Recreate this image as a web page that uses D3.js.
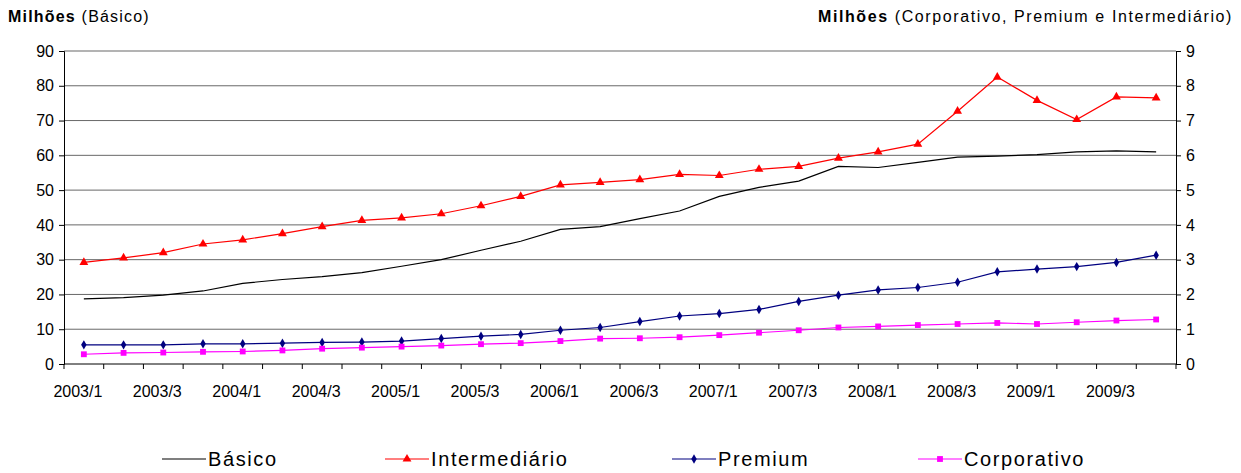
<!DOCTYPE html>
<html><head><meta charset="utf-8">
<script src="https://cdn.jsdelivr.net/npm/d3@7"></script>
<style>body{margin:0;background:#fff;font-family:"Liberation Sans",Arial,sans-serif}</style>
</head><body><div id="content"></div>
<script>
const years = ['2003','2004','2005','2006','2007','2008','2009'];
const periods = years.flatMap(y => [1, 2, 3, 4].map(q => `${y}/${q}`));
const basico = [18.7,19.1,19.8,21,23.2,24.3,25.1,26.3,28.1,30,32.7,35.3,38.7,39.5,41.8,44,48.2,50.8,52.6,56.8,56.5,58,59.5,59.8,60.2,61,61.3,61];
const intermediario = [2.92,3.05,3.2,3.45,3.57,3.75,3.95,4.13,4.2,4.32,4.55,4.82,5.15,5.22,5.3,5.45,5.42,5.6,5.68,5.92,6.1,6.32,7.27,8.25,7.58,7.03,7.68,7.65];
const premium = [0.55,0.55,0.55,0.58,0.58,0.6,0.62,0.63,0.66,0.73,0.8,0.85,0.97,1.05,1.22,1.38,1.45,1.57,1.8,1.98,2.13,2.2,2.35,2.65,2.73,2.8,2.92,3.13];
const corporativo = [0.28,0.32,0.33,0.35,0.36,0.39,0.44,0.47,0.5,0.53,0.57,0.6,0.66,0.73,0.74,0.77,0.83,0.9,0.97,1.05,1.08,1.12,1.15,1.18,1.15,1.2,1.25,1.28];
const leftTicks = d3.range(0, 91, 10);
const rightTicks = d3.range(0, 10, 1);

const W = 1241, H = 473, L = 64, R = 1176, T = 51, B = 364;
const svg = d3.select('#content').append('svg').attr('width', W).attr('height', H)
  .style('font-family', '"Liberation Sans",Arial,sans-serif');

const x = d3.scaleBand().domain(periods).range([L, R]);
const yL = d3.scaleLinear().domain([0, 90]).range([B, T]);
const yR = d3.scaleLinear().domain([0, 9]).range([B, T]);
const cx = p => x(p) + x.bandwidth() / 2;

svg.append('g').selectAll('line').data(leftTicks.slice(1)).join('line')
  .attr('x1', L).attr('x2', R).attr('y1', d => yL(d)).attr('y2', d => yL(d))
  .attr('stroke', '#000').attr('stroke-width', 0.6);

const gl = svg.append('g').attr('transform', `translate(${L},0)`)
  .call(d3.axisLeft(yL).tickValues(leftTicks).tickSize(5).tickPadding(5));
const gr = svg.append('g').attr('transform', `translate(${R},0)`)
  .call(d3.axisRight(yR).tickValues(rightTicks).tickSize(5).tickPadding(5));
const gx = svg.append('g').attr('transform', `translate(-6,${B})`)
  .call(d3.axisBottom(x).tickValues(periods.filter((p, i) => i % 2 === 0)).tickSize(0).tickPadding(22));
gx.select('.domain').remove();
svg.append('line').attr('x1', L).attr('x2', R).attr('y1', B).attr('y2', B).attr('stroke', '#000');
svg.append('g').selectAll('line').data(periods.concat(['end'])).join('line')
  .attr('x1', (d, i) => L + i * x.bandwidth()).attr('x2', (d, i) => L + i * x.bandwidth())
  .attr('y1', B).attr('y2', B + 5).attr('stroke', '#000');
[gl, gr, gx].forEach(g => {
  g.selectAll('text').attr('font-size', 16).attr('fill', '#000').attr('font-family', '"Liberation Sans",Arial,sans-serif');
  g.selectAll('path,line').attr('stroke', '#000');
});

svg.append('text').attr('x', 8).attr('y', 22).attr('font-size', 16).attr('letter-spacing', 1.2)
  .html('<tspan font-weight="bold">Milhões</tspan> (Básico)');
svg.append('text').attr('x', 1233).attr('y', 22).attr('font-size', 16).attr('letter-spacing', 1.6).attr('text-anchor', 'end')
  .html('<tspan font-weight="bold">Milhões</tspan> (Corporativo, Premium e Intermediário)');

const series = [
  {name: 'Básico', values: basico, y: yL, color: '#000', marker: null},
  {name: 'Intermediário', values: intermediario, y: yR, color: '#ff0000', marker: 'triangle'},
  {name: 'Premium', values: premium, y: yR, color: '#000080', marker: 'diamond'},
  {name: 'Corporativo', values: corporativo, y: yR, color: '#ff00ff', marker: 'square'}
];
const sym = {triangle: d3.symbolTriangle, diamond: d3.symbolDiamond, square: d3.symbolSquare};
const size = {triangle: 34, diamond: 26, square: 34};

series.forEach(s => {
  svg.append('path').datum(s.values)
    .attr('d', d3.line().x((d, i) => cx(periods[i])).y(d => s.y(d)))
    .attr('fill', 'none').attr('stroke', s.color).attr('stroke-width', 1.2);
  if (s.marker) {
    svg.append('g').selectAll('path').data(s.values).join('path')
      .attr('d', d3.symbol(sym[s.marker], size[s.marker]))
      .attr('transform', (d, i) => `translate(${cx(periods[i])},${s.y(d)})`)
      .attr('fill', s.color);
  }
});

const legX = [162, 385, 672, 918];
series.forEach((s, i) => {
  const g = svg.append('g').attr('transform', `translate(${legX[i]},459)`);
  g.append('line').attr('x1', 0).attr('x2', 44).attr('stroke', s.color).attr('stroke-width', 1.2);
  if (s.marker) g.append('path').attr('d', d3.symbol(sym[s.marker], size[s.marker])).attr('transform', 'translate(22,0)').attr('fill', s.color);
  g.append('text').attr('x', 46).attr('y', 7).attr('font-size', 20).attr('letter-spacing', 1.6).text(s.name);
});
</script></body></html>
